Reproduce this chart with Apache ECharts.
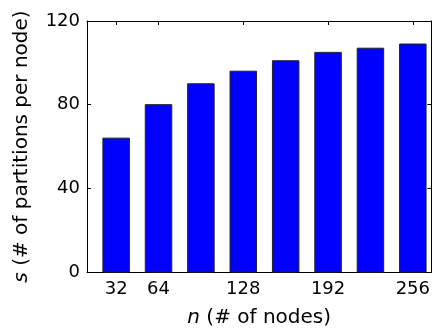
<!DOCTYPE html>
<html>
<head>
<meta charset="utf-8">
<script src="https://cdn.jsdelivr.net/npm/echarts@6/dist/echarts.min.js"></script>
<style>html,body{margin:0;padding:0;background:#fff}#c{width:433px;height:333px}</style>
</head>
<body>
<div id="c"></div>
<script>
const nodes = [32, 64, 96, 128, 160, 192, 224, 256];
const partitions = [64, 80, 90, 96, 101, 105, 107, 109];
const xTicks = [32, 64, 128, 192, 256];
const yTicks = [0, 40, 80, 120];

const FONT = 'DejaVu Sans';
const chart = echarts.init(document.getElementById('c'), null, {renderer: 'canvas'});
const halfWidth = 10;
const data = nodes.map((n, i) => [n, partitions[i]]);

const xCommon = {
  type: 'value', min: 10, max: 270,
  splitLine: {show: false},
  axisLine: {show: true, onZero: false, lineStyle: {color: '#000', width: 1}},
  axisTick: {show: true, inside: true, length: 4, customValues: xTicks, lineStyle: {color: '#000', width: 1}}
};
const yCommon = {
  type: 'value', min: 0, max: 120, interval: 40,
  splitLine: {show: false},
  axisLine: {show: true, lineStyle: {color: '#000', width: 1}},
  axisTick: {show: true, inside: true, length: 4, lineStyle: {color: '#000', width: 1}}
};

chart.setOption({
  animation: false,
  grid: {left: 87, top: 21, right: 1, bottom: 56, containLabel: false},
  xAxis: [
    Object.assign({}, xCommon, {
      position: 'bottom',
      name: '{i|n} (# of nodes)',
      nameLocation: 'middle', nameGap: 36,
      nameTextStyle: {fontFamily: FONT, fontSize: 20, color: '#000',
        rich: {i: {fontFamily: FONT, fontStyle: 'italic', fontSize: 20, color: '#000'}}},
      axisLabel: {show: true, customValues: xTicks, margin: 8, fontFamily: FONT, fontSize: 18, color: '#000'}
    }),
    Object.assign({}, xCommon, {position: 'top', axisLabel: {show: false}})
  ],
  yAxis: [
    Object.assign({}, yCommon, {
      position: 'left',
      name: '{i|s} (# of partitions per node)',
      nameLocation: 'middle', nameGap: 55, nameRotate: 90,
      nameTextStyle: {fontFamily: FONT, fontSize: 20, color: '#000',
        rich: {i: {fontFamily: FONT, fontStyle: 'italic', fontSize: 20, color: '#000'}}},
      axisLabel: {show: true, margin: 7, fontFamily: FONT, fontSize: 18, color: '#000'}
    }),
    Object.assign({}, yCommon, {position: 'right', axisLabel: {show: false}})
  ],
  series: [{
    type: 'custom',
    xAxisIndex: 0, yAxisIndex: 0,
    data: data,
    renderItem: function (params, api) {
      const x = api.value(0), y = api.value(1);
      const p1 = api.coord([x - halfWidth, y]);
      const p2 = api.coord([x + halfWidth, 0]);
      return {
        type: 'rect',
        shape: {x: p1[0], y: p1[1], width: p2[0] - p1[0], height: p2[1] - p1[1]},
        style: {fill: '#0000ff', stroke: '#222', lineWidth: 1}
      };
    }
  }]
});
</script>
</body>
</html>
